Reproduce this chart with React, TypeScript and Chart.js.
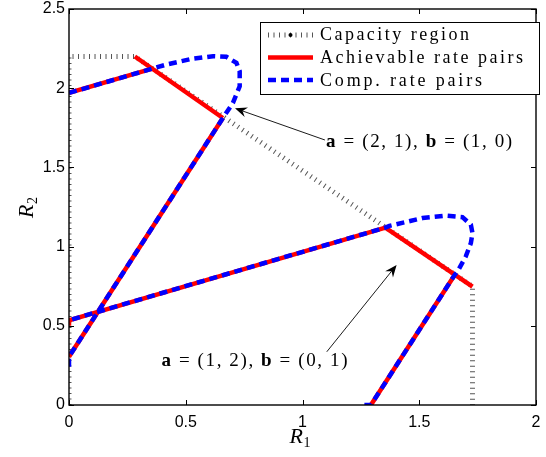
import React, { useEffect, useRef } from 'react';
import { Chart, registerables } from 'chart.js';

Chart.register(...registerables);

// ---------- data ----------
const xTicks = [0, 0.5, 1, 1.5, 2];
const xTickLabels = ['0', '0.5', '1', '1.5', '2'];
const yTicks = [0, 0.5, 1, 1.5, 2, 2.5];
const yTickLabels = ['0', '0.5', '1', '1.5', '2', '2.5'];

const legendLabels = ['Capacity region', 'Achievable rate pairs', 'Comp. rate pairs'];

const capacityR1 = [0, 0, 0.282, 1.728, 1.728];
const capacityR2 = [0, 2.2, 2.2, 0.748, 0];

const achievableR1 = [0, 0.353, null, 0.282, 0.659, null, 0, 0.659, null, 0, 0, 1.355, 1.728, null, 1.293, 1.653];
const achievableR2 = [1.97, 2.122, null, 2.2, 1.812, null, 0.305, 1.812, null, 0.5, 0.535, 1.12, 0.748, null, 0, 0.824];

const compR1 = [0, 0, 0.659, 0.702, 0.731, 0.731, 0.717, 0.674, 0.617, 0.531, 0.417, 0.353, 0, null,
  1.265, 1.293, 1.653, 1.664, 1.699, 1.721, 1.728, 1.721, 1.685, 1.614, 1.514, 1.443, 1.372, 1.355, 0];
const compR2 = [0.242, 0.305, 1.812, 1.907, 2.012, 2.107, 2.16, 2.198, 2.202, 2.187, 2.149, 2.122, 1.97, null,
  0, 0, 0.824, 0.843, 0.937, 1.022, 1.085, 1.138, 1.186, 1.195, 1.18, 1.155, 1.131, 1.12, 0.535];

const annotation1 = { a: '(2, 1)', b: '(1, 0)' };
const annotation2 = { a: '(1, 2)', b: '(0, 1)' };

// ---------- helpers ----------
function zip(xs: (number | null)[], ys: (number | null)[]) {
  return xs.map((x, i) => ({ x: x as any, y: ys[i] as any }));
}

type Seg = { t: string; f: string };

function drawSegs(ctx: CanvasRenderingContext2D, segs: Seg[], x: number, y: number, target: number) {
  (ctx as any).letterSpacing = '0px';
  let natural = 0;
  let n = 0;
  for (const s of segs) {
    ctx.font = s.f;
    natural += ctx.measureText(s.t).width;
    n += s.t.length;
  }
  const ls = (target - natural) / Math.max(1, n - 1);
  (ctx as any).letterSpacing = ls + 'px';
  let cx = x;
  for (const s of segs) {
    ctx.font = s.f;
    ctx.fillText(s.t, cx, y);
    cx += ctx.measureText(s.t).width;
  }
  (ctx as any).letterSpacing = '0px';
}

function arrow(ctx: CanvasRenderingContext2D, x0: number, y0: number, x1: number, y1: number) {
  const dx = x1 - x0;
  const dy = y1 - y0;
  const len = Math.hypot(dx, dy);
  const ux = dx / len;
  const uy = dy / len;
  const nx = -uy;
  const ny = ux;
  const L = 12;
  const W = 5;
  const B = 8;
  ctx.beginPath();
  ctx.moveTo(x0, y0);
  ctx.lineTo(x1 - B * ux, y1 - B * uy);
  ctx.stroke();
  ctx.beginPath();
  ctx.moveTo(x1, y1);
  ctx.lineTo(x1 - L * ux + W * nx, y1 - L * uy + W * ny);
  ctx.lineTo(x1 - B * ux, y1 - B * uy);
  ctx.lineTo(x1 - L * ux - W * nx, y1 - L * uy - W * ny);
  ctx.closePath();
  ctx.fill();
}

const SERIF = '"Liberation Serif", "Times New Roman", serif';
const SANS = '"Liberation Sans", Arial, sans-serif';

const overlay = {
  id: 'overlay',
  afterDraw(chart: any) {
    const ctx: CanvasRenderingContext2D = chart.ctx;
    const { left, right, top, bottom } = chart.chartArea;
    const xs = chart.scales.x;
    const ys = chart.scales.y;
    ctx.save();
    ctx.strokeStyle = '#000';
    ctx.fillStyle = '#000';

    // box
    ctx.lineWidth = 1.4;
    ctx.strokeRect(left, top, right - left, bottom - top);

    // inward ticks on all four sides
    ctx.lineWidth = 1;
    const tl = 5;
    ctx.beginPath();
    for (const v of xTicks) {
      const px = Math.round(xs.getPixelForValue(v)) + 0.5;
      ctx.moveTo(px, bottom);
      ctx.lineTo(px, bottom - tl);
      ctx.moveTo(px, top);
      ctx.lineTo(px, top + tl);
    }
    for (const v of yTicks) {
      const py = Math.round(ys.getPixelForValue(v)) + 0.5;
      ctx.moveTo(left, py);
      ctx.lineTo(left + tl, py);
      ctx.moveTo(right, py);
      ctx.lineTo(right - tl, py);
    }
    ctx.stroke();

    // axis titles
    ctx.textBaseline = 'alphabetic';
    ctx.textAlign = 'left';
    const cx = (left + right) / 2;
    const rFont = 'italic 22px ' + SERIF;
    const sFont = '14px ' + SERIF;
    ctx.font = rFont;
    const rw = ctx.measureText('R').width;
    const r1x = cx - 13;
    ctx.fillText('R', r1x, 443);
    ctx.font = sFont;
    ctx.fillText('1', r1x + rw + 0.5, 447);

    ctx.save();
    ctx.translate(33, 218);
    ctx.rotate(-Math.PI / 2);
    ctx.font = rFont;
    ctx.fillText('R', 0, 0);
    ctx.font = sFont;
    ctx.fillText('2', rw + 0.5, 4);
    ctx.restore();

    // annotations with arrows
    ctx.lineWidth = 0.9;
    arrow(ctx, xs.getPixelForValue(1.096), ys.getPixelForValue(1.673), xs.getPixelForValue(0.711), ys.getPixelForValue(1.873));
    arrow(ctx, xs.getPixelForValue(1.104), ys.getPixelForValue(0.336), xs.getPixelForValue(1.403), ys.getPixelForValue(0.884));

    const fb = 'bold 19px ' + SERIF;
    const fn = '19px ' + SERIF;
    drawSegs(ctx, [
      { t: 'a', f: fb }, { t: ' = ' + annotation1.a + ', ', f: fn }, { t: 'b', f: fb }, { t: ' = ' + annotation1.b, f: fn },
    ], xs.getPixelForValue(1.101), ys.getPixelForValue(1.631), 186);
    drawSegs(ctx, [
      { t: 'a', f: fb }, { t: ' = ' + annotation2.a + ', ', f: fn }, { t: 'b', f: fb }, { t: ' = ' + annotation2.b, f: fn },
    ], xs.getPixelForValue(0.396), ys.getPixelForValue(0.246), 186);

    // legend
    const lx0 = 260;
    const lx1 = right + 3;
    const ly0 = 22;
    const ly1 = 94;
    ctx.fillStyle = '#fff';
    ctx.fillRect(lx0, ly0, lx1 - lx0, ly1 - ly0);
    ctx.strokeStyle = '#000';
    ctx.lineWidth = 1;
    ctx.strokeRect(lx0 + 0.5, ly0 + 0.5, lx1 - lx0, ly1 - ly0);

    const rowsY = [35, 57.5, 80];
    const sx0 = 268;
    const sx1 = 313;
    // capacity sample
    ctx.save();
    ctx.strokeStyle = '#555';
    ctx.lineWidth = 5;
    ctx.setLineDash([1, 4.5]);
    ctx.beginPath();
    ctx.moveTo(sx0, rowsY[0]);
    ctx.lineTo(sx1, rowsY[0]);
    ctx.stroke();
    ctx.restore();
    ctx.fillStyle = '#000';
    ctx.beginPath();
    ctx.arc((sx0 + sx1) / 2, rowsY[0], 2, 0, Math.PI * 2);
    ctx.fill();
    // achievable sample
    ctx.strokeStyle = '#ff0000';
    ctx.lineWidth = 4.5;
    ctx.beginPath();
    ctx.moveTo(sx0, rowsY[1]);
    ctx.lineTo(sx1, rowsY[1]);
    ctx.stroke();
    // comp sample
    ctx.save();
    ctx.strokeStyle = '#0000ff';
    ctx.lineWidth = 4.5;
    ctx.setLineDash([8, 5]);
    ctx.beginPath();
    ctx.moveTo(sx0, rowsY[2]);
    ctx.lineTo(sx1, rowsY[2]);
    ctx.stroke();
    ctx.restore();

    ctx.fillStyle = '#000';
    const lf = '18px ' + SERIF;
    const targets = [149, 203, 162];
    const baselines = [40, 63, 85.5];
    legendLabels.forEach((lab, i) => {
      drawSegs(ctx, [{ t: lab, f: lf }], 320, baselines[i], targets[i]);
    });

    ctx.restore();
  },
};

export default function App() {
  const ref = useRef<HTMLCanvasElement | null>(null);

  useEffect(() => {
    document.body.style.margin = '0';
    const canvas = ref.current;
    if (!canvas) return;
    const tickFont = { family: SANS, size: 16 };
    const chart = new Chart(canvas, {
      type: 'scatter',
      data: {
        datasets: [
          {
            label: legendLabels[2],
            data: zip(compR1, compR2),
            showLine: true,
            borderColor: '#0000ff',
            backgroundColor: '#0000ff',
            borderWidth: 4.5,
            borderDash: [8, 5],
            pointRadius: 0,
            spanGaps: false,
            clip: 0,
            order: 1,
          },
          {
            label: legendLabels[1],
            data: zip(achievableR1, achievableR2),
            showLine: true,
            borderColor: '#ff0000',
            backgroundColor: '#ff0000',
            borderWidth: 4.5,
            pointRadius: 0,
            spanGaps: false,
            clip: 0,
            order: 2,
          },
          {
            label: legendLabels[0],
            data: zip(capacityR1, capacityR2),
            showLine: true,
            borderColor: '#555',
            backgroundColor: '#555',
            borderWidth: 5,
            borderDash: [1, 4.5],
            pointRadius: 0,
            spanGaps: false,
            clip: 0,
            order: 3,
          },
        ] as any,
      },
      options: {
        responsive: false,
        animation: false,
        devicePixelRatio: 1,
        layout: { padding: { top: 9, right: 10, left: 0, bottom: 0 } },
        plugins: { legend: { display: false }, tooltip: { enabled: false } },
        scales: {
          x: {
            type: 'linear',
            min: 0,
            max: 2,
            grid: { display: false, drawTicks: false },
            border: { display: false },
            afterBuildTicks: (s: any) => {
              s.ticks = xTicks.map((v) => ({ value: v }));
            },
            afterFit: (s: any) => {
              s.height = 52;
              s.paddingLeft = 0;
              s.paddingRight = 0;
              s.paddingTop = 0;
              s.paddingBottom = 0;
            },
            ticks: {
              padding: 8,
              color: '#000',
              font: tickFont,
              maxRotation: 0,
              autoSkip: false,
              callback: (v: any) => xTickLabels[xTicks.indexOf(Number(v))] ?? '',
            },
          },
          y: {
            type: 'linear',
            min: 0,
            max: 2.5,
            grid: { display: false, drawTicks: false },
            border: { display: false },
            afterBuildTicks: (s: any) => {
              s.ticks = yTicks.map((v) => ({ value: v }));
            },
            afterFit: (s: any) => {
              s.width = 69;
              s.paddingLeft = 0;
              s.paddingRight = 0;
              s.paddingTop = 0;
              s.paddingBottom = 0;
            },
            ticks: {
              padding: 4,
              color: '#000',
              font: tickFont,
              autoSkip: false,
              callback: (v: any) => yTickLabels[yTicks.indexOf(Number(v))] ?? '',
            },
          },
        },
      } as any,
      plugins: [overlay],
    });
    return () => chart.destroy();
  }, []);

  return (
    <div style={{ width: 546, height: 457 }}>
      <canvas ref={ref} width={546} height={457} style={{ display: 'block', width: 546, height: 457 }} />
    </div>
  );
}
